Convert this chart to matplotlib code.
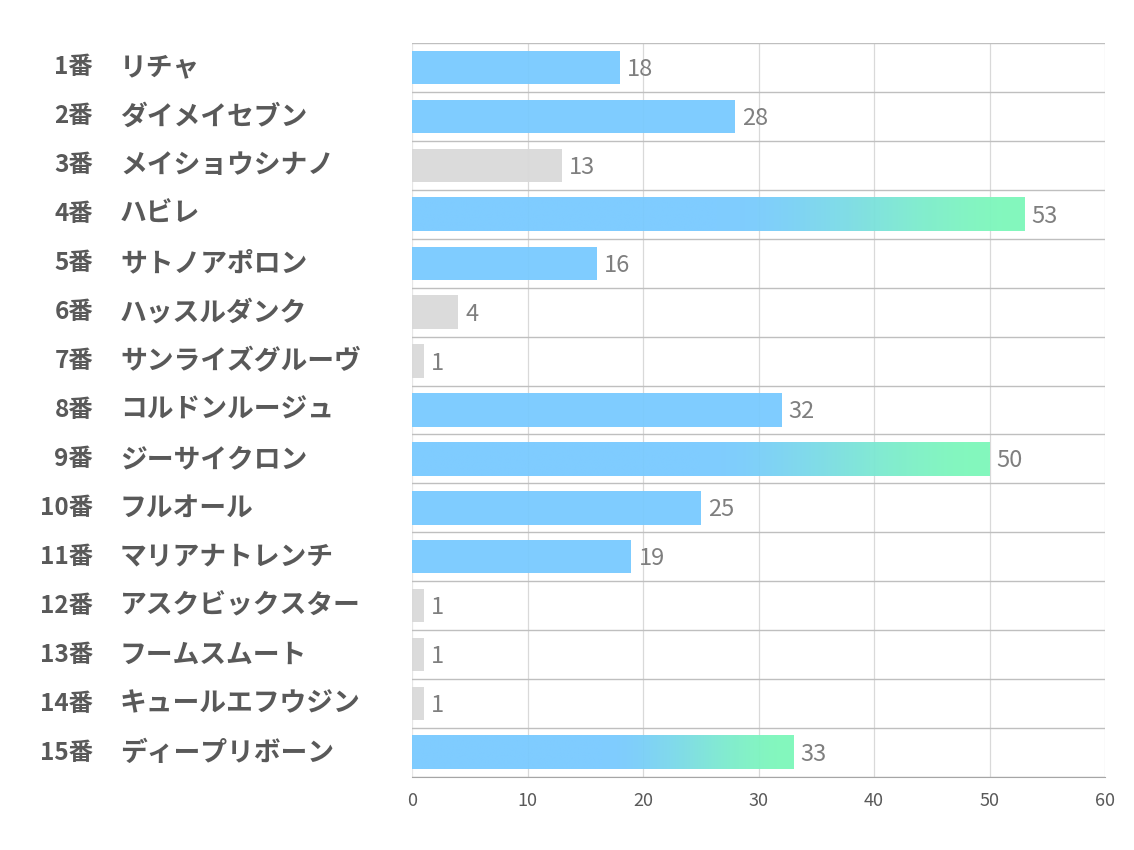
import matplotlib
matplotlib.use("Agg")
import matplotlib.pyplot as plt
import numpy as np
from matplotlib.colors import to_rgb

plt.rcParams['font.family'] = ['Noto Sans CJK JP', 'DejaVu Sans']

numbers = ["1番", "2番", "3番", "4番", "5番", "6番", "7番", "8番", "9番", "10番",
           "11番", "12番", "13番", "14番", "15番"]
names = ["リチャ", "ダイメイセブン", "メイショウシナノ", "ハビレ", "サトノアポロン",
         "ハッスルダンク", "サンライズグルーヴ", "コルドンルージュ", "ジーサイクロン",
         "フルオール", "マリアナトレンチ", "アスクビックスター", "フームスムート",
         "キュールエフウジン", "ディープリボーン"]
values = [18, 28, 13, 53, 16, 4, 1, 32, 50, 25, 19, 1, 1, 1, 33]
active = [True, True, False, True, True, False, False, True, True, True,
          True, False, False, False, True]
x_ticks = [0, 10, 20, 30, 40, 50, 60]

BLUE = "#78CAFF"
GREEN = "#7DF8BA"
GRAY = "#D9D9D9"

fig = plt.figure(figsize=(11.34, 8.5), dpi=100)
ax = fig.add_axes([412/1134, 1-777/850, (1105-412)/1134, (777-43)/850])

n = len(values)
bar_h = 0.68
top3 = set(np.argsort(values)[::-1][:3])

ax.set_xlim(0, 60)
ax.set_ylim(n - 0.5, -0.5)

# grid
for xv in x_ticks[1:]:
    ax.axvline(xv, color="#D9D9D9", lw=0.9, zorder=0)
ax.axvline(0, color="#E6E6E6", lw=0.9, zorder=0)
for b in np.arange(-0.5, n, 1.0):
    ax.axhline(b, color="#BFBFBF", lw=1.0, zorder=0)

for i, (v, a) in enumerate(zip(values, active)):
    if a and i in top3:
        c1 = np.array(to_rgb(BLUE)); c2 = np.array(to_rgb(GREEN))
        N = 256
        t = np.linspace(0, 1, N)
        f = np.clip((t - 0.5) / 0.5, 0, 1)
        f = f * f * (3 - 2 * f)
        cols = c1[None, :] * (1 - f[:, None]) + c2[None, :] * f[:, None]
        img = np.concatenate([cols, np.full((N, 1), 0.95)], axis=1)[None, :, :]
        ax.imshow(img, extent=(0, v, i + bar_h/2, i - bar_h/2), aspect='auto',
                  interpolation='bilinear', zorder=2)
    else:
        ax.barh(i, v, height=bar_h, color=BLUE if a else GRAY, alpha=0.95,
                zorder=2, lw=0)
    ax.text(v + 0.6, i + 0.04, str(v), va='center', ha='left', fontsize=17,
            color="#7F7F7F", zorder=3)

ax.set_xlim(0, 60)
ax.set_ylim(n - 0.5, -0.5)
ax.set_xticks(x_ticks)
ax.set_xticklabels([str(t) for t in x_ticks], fontsize=13, color="#595959")
ax.tick_params(axis='x', length=0, pad=11)
ax.set_yticks([])
for s in ["top", "right", "left"]:
    ax.spines[s].set_visible(False)
ax.spines["bottom"].set_color("#A6A6A6")

for i in range(n):
    y_fig = 1 - (43 + (i + 0.5) * (777 - 43) / n) / 850
    fig.text(93/1134, y_fig, numbers[i], ha='right', va='center', fontsize=17.5,
             fontweight='bold', color="#595959")
    fig.text(120/1134, y_fig, names[i], ha='left', va='center', fontsize=19.3,
             fontweight='bold', color="#595959")

fig.savefig("out.png", dpi=100, facecolor="white")
